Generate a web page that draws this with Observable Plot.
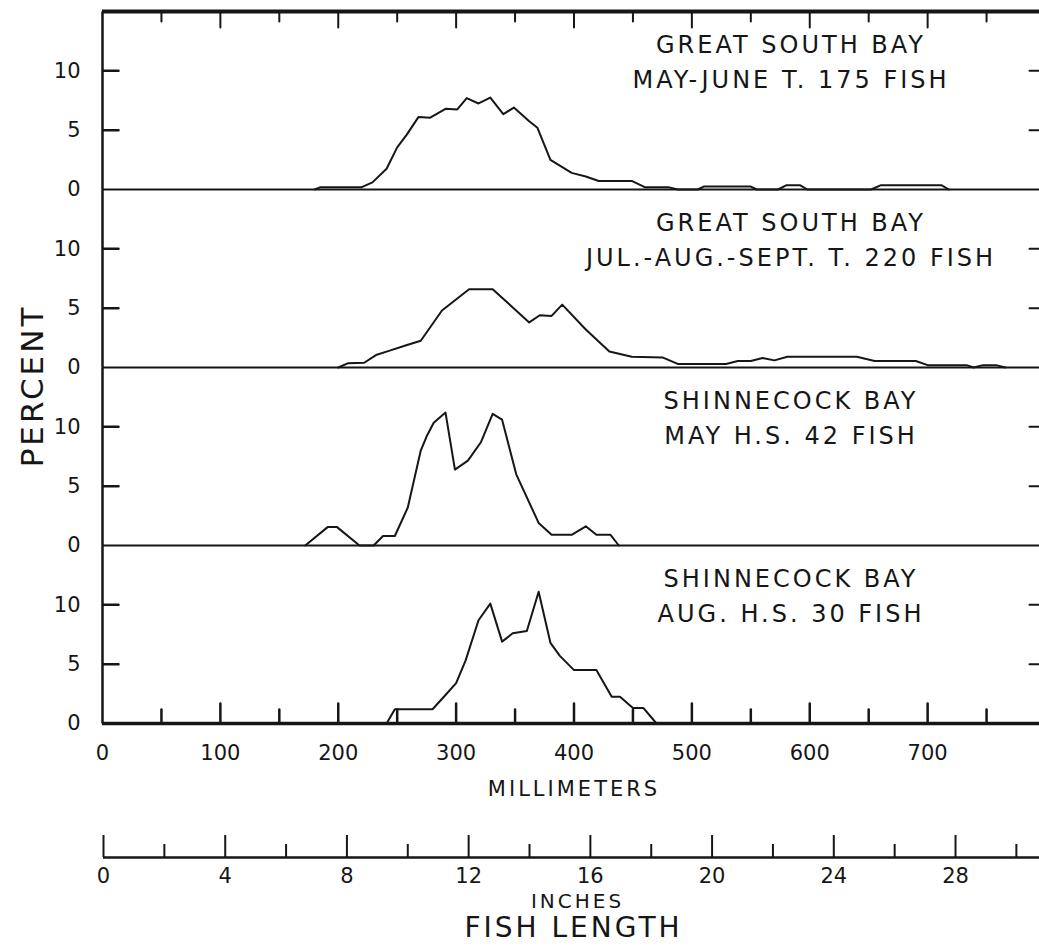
<!DOCTYPE html>
<html>
<head>
<meta charset="utf-8">
<script src="https://cdn.jsdelivr.net/npm/d3@7"></script>
<script src="https://cdn.jsdelivr.net/npm/@observablehq/plot@0.6"></script>
<style>
html, body { margin: 0; padding: 0; background: #fff; overflow: hidden; }
#wrap { position: relative; width: 1039px; height: 949px; overflow: hidden; font-family: "DejaVu Sans", sans-serif; color: #161616; background: #fff; }
#wrap > div.p { position: absolute; left: 0; }
#ylab { position: absolute; left: 32px; top: 386px; transform: translate(-50%, -50%) rotate(-90deg); font-size: 31px; letter-spacing: 3px; white-space: nowrap; line-height: 1; }
.p g[aria-label="text"] text { letter-spacing: 3px; }
</style>
</head>
<body>
<div id="wrap">
  <div id="p0" class="p"></div>
  <div id="p1" class="p"></div>
  <div id="p2" class="p"></div>
  <div id="p3" class="p"></div>
  <div id="inch" class="p"></div>
  <div id="ylab">PERCENT</div>
</div>
<script>
// ---- Panels ----
const panels = ["GSB May-June", "GSB Jul-Sept", "SB May", "SB Aug"];
const panelLine1 = ["GREAT SOUTH BAY", "GREAT SOUTH BAY", "SHINNECOCK BAY", "SHINNECOCK BAY"];
const panelLine2 = ["MAY-JUNE T. 175 FISH", "JUL.-AUG.-SEPT. T. 220 FISH", "MAY H.S. 42 FISH", "AUG. H.S. 30 FISH"];

// ---- Series (fish length in mm, percent) ----
const gsbMayJuneMm  = [180,185,220,229,241,250,258,268,278,291,301,309,319,329,340,349,362,369,380,398,410,421,449,460,480,488,505,510,550,555,573,580,592,598,652,660,712,718];
const gsbMayJunePct = [0,0.2,0.2,0.6,1.75,3.55,4.6,6.1,6.05,6.8,6.75,7.7,7.25,7.75,6.35,6.9,5.75,5.2,2.5,1.4,1.1,0.72,0.72,0.2,0.2,0,0,0.25,0.25,0,0,0.35,0.35,0,0,0.35,0.35,0];

const gsbJulSeptMm  = [200,208,222,232,243,257,270,288,311,331,362,371,381,390,410,430,449,475,488,529,539,550,560,570,581,640,655,690,700,733,739,747,758,766];
const gsbJulSeptPct = [0,0.35,0.4,1.05,1.4,1.85,2.25,4.8,6.6,6.6,3.8,4.4,4.35,5.3,3.2,1.35,0.9,0.85,0.3,0.3,0.55,0.55,0.8,0.6,0.9,0.9,0.55,0.55,0.2,0.2,0,0.2,0.2,0];

const sbMayMm  = [172,191,199,218,230,238,248,259,270,275,281,291,299,310,321,331,339,351,370,381,398,410,419,431,438];
const sbMayPct = [0,1.55,1.55,0,0,0.8,0.8,3.2,8.0,9.2,10.35,11.2,6.4,7.15,8.7,11.1,10.6,6.0,1.9,0.9,0.9,1.62,0.9,0.9,0];

const sbAugMm  = [241,248,280,291,300,308,319,329,339,348,360,370,380,388,400,419,432,439,450,459,470];
const sbAugPct = [0,1.2,1.2,2.4,3.4,5.3,8.7,10.1,6.9,7.6,7.8,11.1,6.8,5.7,4.5,4.5,2.25,2.25,1.3,1.3,0];

// ---- Axes ----
const mmDomain = [0, 800];
const pctDomain = [0, 15];
const pctTickLabels = [0, 5, 10];
const pctTickMarks = [5, 10];
const mmLabels = [0, 100, 200, 300, 400, 500, 600, 700];
const mmTicks = [50, 100, 150, 200, 250, 300, 350, 400, 450, 500, 550, 600, 650, 700, 750];
const inchDomain = [0, 30.76];
const inchMajor = [0, 4, 8, 12, 16, 20, 24, 28];
const inchMinor = [2, 6, 10, 14, 18, 22, 26, 30];

const ink = "#161616";

// layout constants (pixels)
const W = 1046, mL = 102, mR = 1, top0 = 11, panelH = 178, pad = 12;
const frameW = W - mL - mR;
// pixel lengths converted to data units of each scale
const pxY = (px) => px * (pctDomain[1] - pctDomain[0]) / panelH;
const pxX = (px) => px * (mmDomain[1] - mmDomain[0]) / frameW;
const isMajor = (t) => t % 100 === 0;

// comb of x ticks along a horizontal edge (drawn as one continuous path)
function combX(base, dir, majorPx, minorPx) {
  const pts = [{x: mmDomain[0], y: base}];
  for (const t of mmTicks) {
    const len = pxY(isMajor(t) ? majorPx : minorPx) * dir;
    pts.push({x: t, y: base}, {x: t, y: base + len}, {x: t, y: base});
  }
  pts.push({x: mmDomain[1], y: base});
  return pts;
}
// comb of y ticks along a vertical edge (also draws that edge)
function combY(edge, dir, px) {
  const pts = [{x: edge, y: pctDomain[0]}];
  for (const t of pctTickMarks) pts.push({x: edge, y: t}, {x: edge + pxX(px) * dir, y: t}, {x: edge, y: t});
  pts.push({x: edge, y: pctDomain[1]});
  return pts;
}

const seriesMm = [gsbMayJuneMm, gsbJulSeptMm, sbMayMm, sbAugMm];
const seriesPct = [gsbMayJunePct, gsbJulSeptPct, sbMayPct, sbAugPct];
const baseStyle = {background: "transparent", maxWidth: "none", fontFamily: "DejaVu Sans, sans-serif", fontSize: "21px", color: ink};
const edge = {x: "x", y: "y", stroke: ink, strokeWidth: 2, strokeLinejoin: "round", strokeLinecap: "butt"};

panels.forEach((p, k) => {
  const first = k === 0, last = k === panels.length - 1;
  const mB = last ? 77 : pad;
  const rows = seriesMm[k].map((mm, i) => ({mm, pct: seriesPct[k][i]}));
  const marks = [
    Plot.ruleY([0], {stroke: ink, strokeWidth: last ? 3.5 : 2}),
    Plot.line(combY(mmDomain[0], 1, 16), {...edge, strokeWidth: 2.5}),
    Plot.line(combY(mmDomain[1], -1, 16), edge),
    Plot.line(rows, {x: "mm", y: "pct", stroke: ink, strokeWidth: 2, strokeLinejoin: "round"}),
    Plot.text([panelLine1[k] + "\n" + panelLine2[k]], {text: d => d, frameAnchor: "top", dx: 217, dy: 17, lineAnchor: "top", lineHeight: 1.45, fontSize: 24, fill: ink}),
    Plot.axisY({ticks: pctTickLabels, tickSize: 0, tickPadding: 22, label: null})
  ];
  if (first) {
    marks.push(Plot.ruleY([pctDomain[1]], {stroke: ink, strokeWidth: 4}));
    marks.push(Plot.line(combX(pctDomain[1], -1, 16, 10), edge));
  }
  if (last) {
    marks.push(Plot.line(combX(pctDomain[0], 1, 20, 14), {...edge, strokeWidth: 2.5}));
    marks.push(Plot.axisX({ticks: mmLabels, tickSize: 0, tickPadding: 22, label: null}));
    marks.push(Plot.text(["MILLIMETERS"], {text: d => d, frameAnchor: "bottom", dy: 72, fontSize: 21, fill: ink}));
  } else {
    marks.push(Plot.axisX({ticks: [], tickSize: 0, label: null}));
  }
  const chart = Plot.plot({
    width: W, height: pad + panelH + mB,
    marginLeft: mL, marginRight: mR, marginTop: pad, marginBottom: mB,
    x: {domain: mmDomain},
    y: {domain: pctDomain},
    style: baseStyle,
    marks
  });
  const holder = document.getElementById("p" + k);
  holder.style.top = (top0 + panelH * k - pad) + "px";
  holder.appendChild(chart);
});

// ---- inch scale ----
const iT = 20, iB = 92, iH = 149;
const iFrameH = iH - iT - iB;
const inchChart = Plot.plot({
  width: 1039, height: iH,
  marginLeft: 103, marginRight: 0, marginTop: iT, marginBottom: iB,
  x: {domain: inchDomain},
  y: {domain: [0, 1], axis: null},
  style: baseStyle,
  marks: [
    Plot.ruleY([0], {stroke: ink, strokeWidth: 2.5}),
    Plot.tickX(inchMajor, {x: d => d, insetTop: iFrameH - 22, stroke: ink, strokeWidth: 2}),
    Plot.tickX(inchMinor, {x: d => d, insetTop: iFrameH - 13, stroke: ink, strokeWidth: 2}),
    Plot.axisX({ticks: inchMajor, tickSize: 0, tickPadding: 11, label: null}),
    Plot.text(["INCHES"], {text: d => d, frameAnchor: "bottom", dx: 6, dy: 50, fontSize: 20, fill: ink}),
    Plot.text(["FISH LENGTH"], {text: d => d, frameAnchor: "bottom", dx: 2, dy: 79, fontSize: 28, fill: ink})
  ]
});
const ih = document.getElementById("inch");
ih.style.top = "800px";
ih.appendChild(inchChart);
</script>
</body>
</html>
